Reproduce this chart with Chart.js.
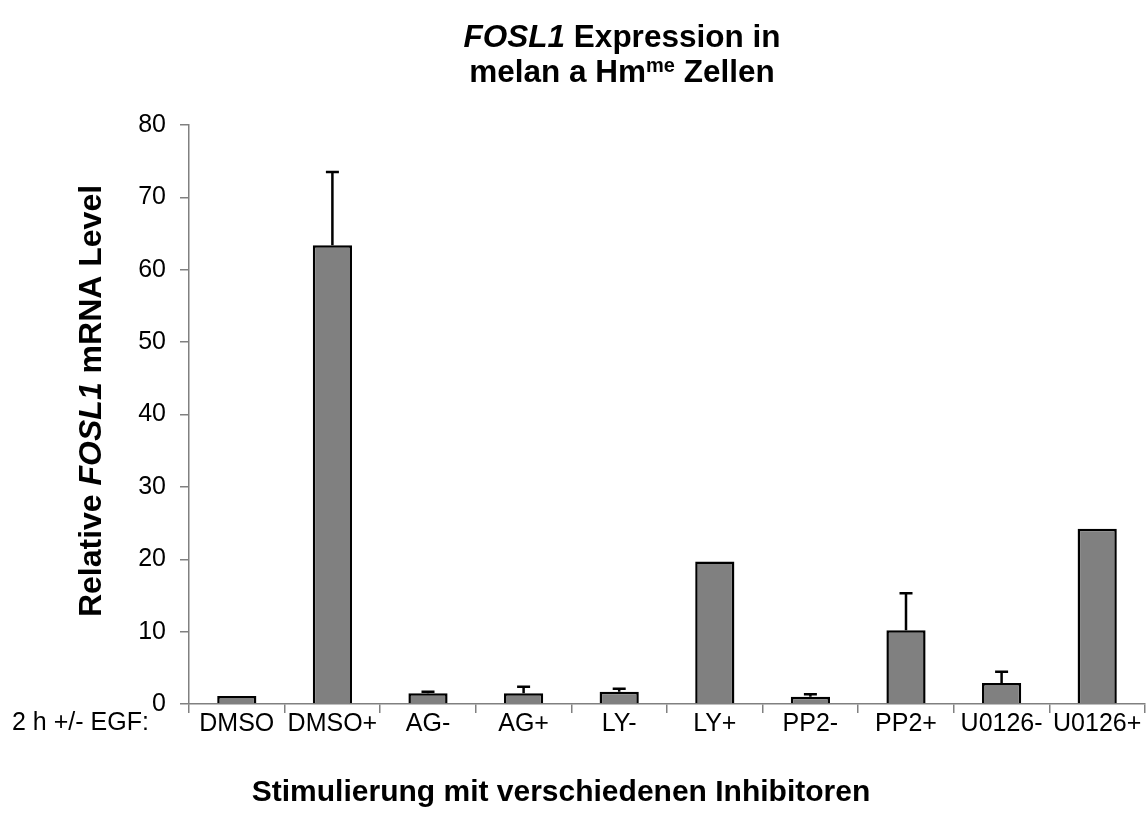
<!DOCTYPE html>
<html>
<head>
<meta charset="utf-8">
<script src="https://cdn.jsdelivr.net/npm/chart.js@4.4.0/dist/chart.umd.min.js"></script>
<style>
  html, body { margin: 0; padding: 0; background: #fff; }
  #wrap { width: 1147px; height: 831px; }
</style>
</head>
<body>
<div id="wrap"><canvas id="grafica" width="1147" height="831"></canvas></div>
<script>
// Daten
const kategorien = ["DMSO", "DMSO+", "AG-", "AG+", "LY-", "LY+", "PP2-", "PP2+", "U0126-", "U0126+"];
const werte = [1.1, 63.4, 1.5, 1.5, 1.7, 19.7, 1.0, 10.2, 2.9, 24.2];
const fehler = [0, 10.1, 0.2, 0.9, 0.4, 0, 0.35, 5.1, 1.55, 0];
const yTicks = [0, 10, 20, 30, 40, 50, 60, 70, 80];

const FONT = "'Liberation Sans', Arial, sans-serif";

// gemischte Textstücke (fett / kursiv / hochgestellt) zeichnen
function textTeile(ctx, teile, x, y, align) {
  let breite = 0;
  teile.forEach(t => {
    ctx.font = t.font;
    breite += ctx.measureText(t.text).width;
  });
  let cx = align === "center" ? x - breite / 2 : x;
  teile.forEach(t => {
    ctx.font = t.font;
    ctx.fillText(t.text, cx, y - (t.hoch || 0));
    cx += ctx.measureText(t.text).width;
  });
}

const fehlerbalken = {
  id: "fehlerbalken",
  afterDatasetsDraw(chart) {
    const ctx = chart.ctx;
    const meta = chart.getDatasetMeta(0);
    const y = chart.scales.y;
    ctx.save();
    ctx.strokeStyle = "#000";
    ctx.lineWidth = 2.5;
    meta.data.forEach((bar, i) => {
      if (!fehler[i]) return;
      const yTop = y.getPixelForValue(werte[i] + fehler[i]);
      ctx.beginPath();
      ctx.moveTo(bar.x, bar.y);
      ctx.lineTo(bar.x, yTop);
      ctx.moveTo(bar.x - 6.5, yTop);
      ctx.lineTo(bar.x + 6.5, yTop);
      ctx.stroke();
    });
    ctx.restore();
  }
};

const beschriftung = {
  id: "beschriftung",
  afterDraw(chart) {
    const ctx = chart.ctx;
    ctx.save();
    ctx.fillStyle = "#000";
    ctx.textBaseline = "alphabetic";
    ctx.textAlign = "left";

    // Titel
    const b31 = "bold 31.5px " + FONT;
    textTeile(ctx, [
      { text: "FOSL1", font: "italic bold 31.5px " + FONT },
      { text: " Expression in", font: b31 }
    ], 622, 47, "center");
    textTeile(ctx, [
      { text: "melan a Hm", font: b31 },
      { text: "me", font: "bold 20px " + FONT, hoch: 10 },
      { text: " Zellen", font: b31 }
    ], 622, 82, "center");

    // y-Achsentitel
    ctx.save();
    ctx.translate(101, 401);
    ctx.rotate(-Math.PI / 2);
    textTeile(ctx, [
      { text: "Relative ", font: "bold 32px " + FONT },
      { text: "FOSL1", font: "italic bold 32px " + FONT },
      { text: " mRNA Level", font: "bold 32px " + FONT }
    ], 0, 0, "center");
    ctx.restore();

    // x-Achsentitel
    ctx.font = "bold 30px " + FONT;
    ctx.textAlign = "center";
    ctx.fillText("Stimulierung mit verschiedenen Inhibitoren", 561, 801);

    // Zeilenbeschriftung links
    ctx.font = "25px " + FONT;
    ctx.textAlign = "left";
    ctx.textBaseline = "middle";
    ctx.fillText("2 h +/- EGF:", 12, 723);
    ctx.restore();
  }
};

const chart = new Chart(document.getElementById("grafica").getContext("2d"), {
  type: "bar",
  data: {
    labels: kategorien,
    datasets: [{
      data: werte,
      backgroundColor: "#808080",
      borderColor: "#000",
      borderWidth: 2.5,
      borderSkipped: "bottom",
      categoryPercentage: 1,
      barPercentage: 0.41
    }]
  },
  options: {
    responsive: false,
    animation: false,
    devicePixelRatio: 1,
    layout: { padding: { left: 0, top: 125, right: 2, bottom: 0 } },
    plugins: {
      legend: { display: false },
      tooltip: { enabled: false }
    },
    scales: {
      x: {
        grid: { offset: true, drawOnChartArea: false, drawTicks: true, tickLength: 9, color: "#808080", lineWidth: 1.5 },
        border: { display: true, color: "#808080", width: 1.5 },
        ticks: { color: "#000", font: { family: FONT, size: 25 }, padding: -4, maxRotation: 0, autoSkip: false },
        afterFit(scale) { scale.height = 127; }
      },
      y: {
        min: 0,
        max: 80,
        afterBuildTicks(scale) { scale.ticks = yTicks.map(v => ({ value: v })); },
        grid: { drawOnChartArea: false, drawTicks: true, tickLength: 9, color: "#808080", lineWidth: 1.5 },
        border: { display: true, color: "#808080", width: 1.5 },
        ticks: { color: "#000", font: { family: FONT, size: 25 }, padding: 14 },
        afterFit(scale) { scale.width = 189; }
      }
    }
  },
  plugins: [fehlerbalken, beschriftung]
});
</script>
</body>
</html>
